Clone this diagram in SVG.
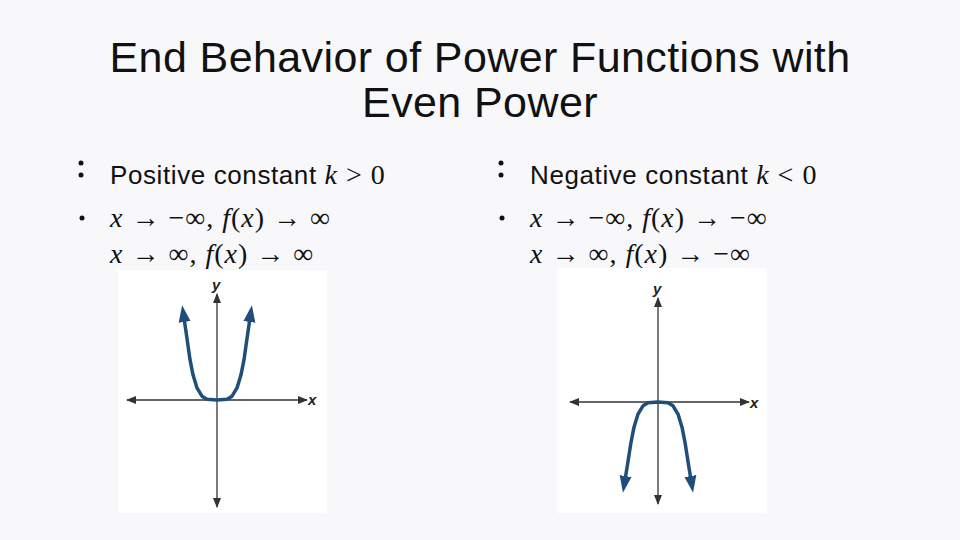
<svg xmlns="http://www.w3.org/2000/svg" width="960" height="540" viewBox="0 0 960 540">
<style>
.t{font-family:"Liberation Sans",Arial,sans-serif;fill:#111}
.m{font-family:"Liberation Serif","Times New Roman",serif;font-style:italic;fill:#111;font-size:28px;letter-spacing:1px}
.r{font-style:normal}
.ax{stroke:#333;stroke-width:1.3;fill:none}
.cv{stroke:#1f4e7a;stroke-width:3.5;fill:none;stroke-linejoin:round}
.lb{font-family:"Liberation Sans",Arial,sans-serif;font-weight:bold;font-style:italic;font-size:15px;fill:#222}
</style>
<defs>
<marker id="a" markerWidth="10" markerHeight="8" refX="9" refY="4" orient="auto" markerUnits="userSpaceOnUse"><path d="M0,0 L10,4 L0,8 z" fill="#333"/></marker>
<marker id="b" markerWidth="18" markerHeight="14" refX="4" refY="7" orient="auto-start-reverse" markerUnits="userSpaceOnUse"><path d="M0,1 L17,7 L0,13 z" fill="#1f4e7a"/></marker>
</defs>
<rect width="960" height="540" fill="#f8f8fa"/>
<g id="title"><text class="t" x="480" y="72" font-size="43" letter-spacing="0.4" text-anchor="middle">End Behavior of Power Functions with</text><text class="t" x="480" y="117" font-size="43" letter-spacing="0.4" text-anchor="middle">Even Power</text></g>
<g id="left-text">
<circle cx="81" cy="163" r="2.5" fill="#111"/><circle cx="81" cy="175" r="2.5" fill="#111"/>
<text class="t" x="110" y="184" font-size="26" letter-spacing="0.6">Positive constant <tspan class="m">k</tspan><tspan class="m r"> &gt; 0</tspan></text>
<circle cx="82" cy="218" r="2.5" fill="#111"/>
<text class="m" x="110" y="227">x <tspan class="r">→ −∞, </tspan>f<tspan class="r">(</tspan>x<tspan class="r">) → ∞</tspan></text>
<text class="m" x="110" y="263">x <tspan class="r">→ ∞, </tspan>f<tspan class="r">(</tspan>x<tspan class="r">) → ∞</tspan></text>
</g>
<g id="right-text">
<circle cx="501" cy="163" r="2.5" fill="#111"/><circle cx="501" cy="175" r="2.5" fill="#111"/>
<text class="t" x="530" y="184" font-size="26" letter-spacing="0.6">Negative constant <tspan class="m">k</tspan><tspan class="m r"> &lt; 0</tspan></text>
<circle cx="502" cy="218" r="2.5" fill="#111"/>
<text class="m" x="530" y="227">x <tspan class="r">→ −∞, </tspan>f<tspan class="r">(</tspan>x<tspan class="r">) → −∞</tspan></text>
<text class="m" x="530" y="263">x <tspan class="r">→ ∞, </tspan>f<tspan class="r">(</tspan>x<tspan class="r">) → −∞</tspan></text>
</g>
<g id="left-graph">
<rect x="118" y="270" width="209" height="243" fill="#fff"/>
<line class="ax" x1="217" y1="400" x2="217" y2="294" marker-end="url(#a)"/>
<line class="ax" x1="217" y1="400" x2="217" y2="507" marker-end="url(#a)"/>
<line class="ax" x1="217" y1="400" x2="127" y2="400" marker-end="url(#a)"/>
<line class="ax" x1="217" y1="400" x2="307" y2="400" marker-end="url(#a)"/>
<text class="lb" x="212" y="290">y</text><text class="lb" x="308" y="405">x</text>
<polyline class="cv" points="184,318 187,338.5 190,359.7 193,374.8 197,387.9 202,396.2 207,399.2 217,400 227,399.2 232,396.2 237,387.9 241,374.8 244,359.7 247,338.5 250,318" marker-start="url(#b)" marker-end="url(#b)"/>
</g>
<g id="right-graph">
<rect x="557" y="268" width="210" height="245" fill="#fff"/>
<line class="ax" x1="658" y1="402" x2="658" y2="298" marker-end="url(#a)"/>
<line class="ax" x1="658" y1="402" x2="658" y2="504" marker-end="url(#a)"/>
<line class="ax" x1="658" y1="402" x2="570" y2="402" marker-end="url(#a)"/>
<line class="ax" x1="658" y1="402" x2="749" y2="402" marker-end="url(#a)"/>
<text class="lb" x="653" y="294">y</text><text class="lb" x="750" y="408">x</text>
<polyline class="cv" points="625,480 628,461.5 631,442.3 634,427.2 638,414.1 643,405.8 648,402.8 658,402 668,402.8 673,405.8 678,414.1 682,427.2 685,442.3 688,461.5 691,480" marker-start="url(#b)" marker-end="url(#b)"/>
</g>
</svg>
